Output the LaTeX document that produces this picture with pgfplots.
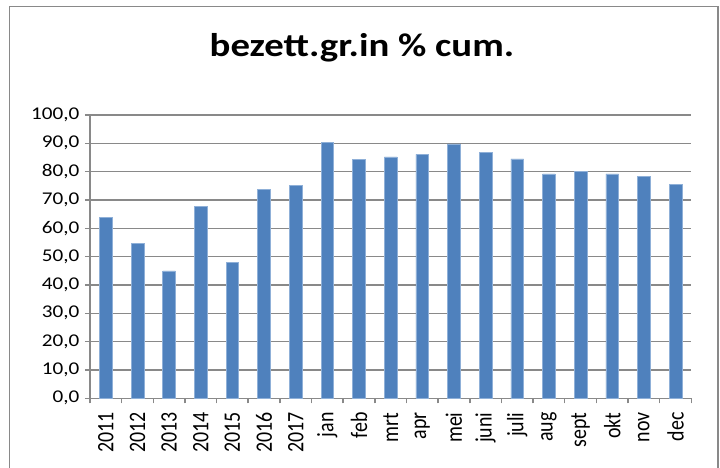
\documentclass[border=0pt]{standalone}
\usepackage{pgfplots}
\pgfplotsset{compat=1.18}
\usepackage{fontspec}
\setmainfont{Carlito}
\newfontfamily\stretchfont{Carlito}[FakeStretch=1.18]
\definecolor{barblue}{HTML}{4F81BD}
\definecolor{baredge}{HTML}{8FB0D8}
\definecolor{gridgray}{HTML}{898989}
\begin{document}
\begin{tikzpicture}[x=1bp,y=1bp]
\useasboundingbox (-90,-69.7) rectangle (630,398.3);
\fill[white] (-90,-69.7) rectangle (630,398.3);
\draw[gridgray, line width=1.6bp] (-80.5,-80) rectangle (628,391.6);
\node[anchor=base] at (272,341.6) {\stretchfont\fontsize{33}{36}\selectfont\bfseries bezett.gr.in \% cum.};
\begin{axis}[
  at={(0,0)}, anchor=south west,
  scale only axis,
  width=601.3bp, height=283.3bp,
  xmin=-0.5, xmax=18.5, ymin=0, ymax=100,
  axis x line*=bottom, axis y line*=left,
  axis line style={gridgray, line width=1.5bp},
  ytick={0,10,...,100},
  ymajorgrids,
  grid style={gridgray, line width=1.5bp},
  major tick length=5bp,
  tick align=outside,
  tick style={gridgray, line width=1.5bp},
  xtick={-0.5,0.5,...,18.5},
  x tick label as interval,
  xticklabels={2011,2012,2013,2014,2015,2016,2017,jan,feb,mrt,apr,mei,juni,juli,aug,sept,okt,nov,dec},
  xticklabel style={yshift=-7bp, rotate=90, yscale=1.18, anchor=east, font=\fontsize{20}{22}\selectfont, inner sep=2bp},
  yticklabel style={font=\stretchfont\fontsize{18}{20}\selectfont, inner sep=2bp, xshift=-3.5bp},
  /pgf/number format/.cd, fixed, fixed zerofill, precision=1, use comma, assume math mode=true,
  /pgfplots/.cd,
]
\addplot[ybar, bar width=12.7bp, fill=barblue, draw=baredge, line width=0.6bp]
coordinates {
(0,63.9) (1,54.8) (2,45.0) (3,67.6) (4,48.1) (5,73.8) (6,75.2)
(7,90.2) (8,84.2) (9,85.2) (10,86.1) (11,89.8) (12,86.8) (13,84.5)
(14,79.2) (15,80.0) (16,79.2) (17,78.3) (18,75.4)
};
\end{axis}
\end{tikzpicture}
\end{document}
